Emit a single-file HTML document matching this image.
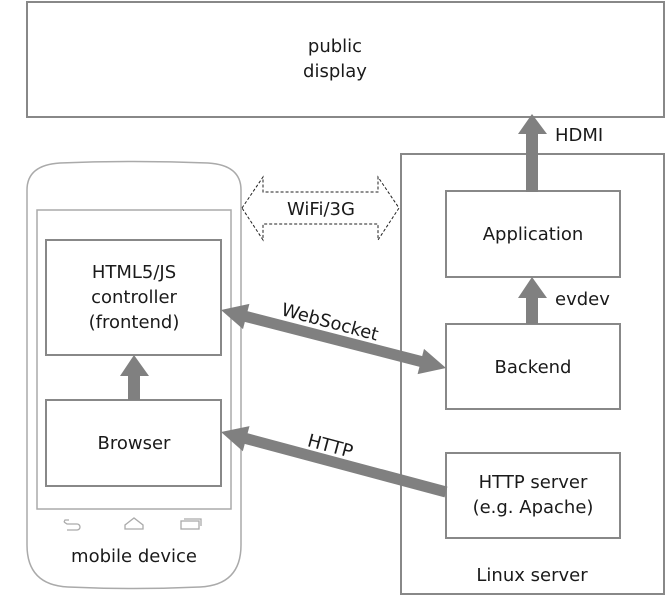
<!DOCTYPE html>
<html><head><style>
html,body{margin:0;padding:0;background:#fff}
</style></head><body>
<svg width="666" height="602" viewBox="0 0 666 602" xmlns="http://www.w3.org/2000/svg" font-family="DejaVu Sans, Liberation Sans, sans-serif" font-size="18" fill="#1a1a1a">
<g fill="none" stroke="#888" stroke-width="2">
<rect x="27" y="2" width="637" height="115"/>
<rect x="401" y="154" width="263" height="440"/>
<rect x="446" y="191" width="174" height="86"/>
<rect x="446" y="324" width="174" height="85"/>
<rect x="446" y="453" width="174" height="85"/>
<path d="M27,190 Q27,165 60,163 Q134,160 208,163 Q241,165 241,190 L241,545 Q241,585 200,587 Q134,590 68,587 Q27,585 27,545 Z" stroke="#aaa" stroke-width="1.5"/>
<rect x="37" y="210" width="194" height="299" stroke="#aaa" stroke-width="1.5"/>
<rect x="46" y="240" width="175" height="115"/>
<rect x="46" y="400" width="175" height="86"/>
</g>
<g fill="none" stroke="#aaa" stroke-width="1.3">
<path d="M69,520 h-4 l-1,2 M64,522 l3,2 h10 a3,3 0 0 1 0,6 h-10"/>
<path d="M125,529 h18 v-4 l-9,-7 l-9,7 z"/>
<rect x="181" y="521" width="18" height="8"/><path d="M184,519 h17 v7"/>
</g>
<path d="M242,208 L263,177 L263,192 L378,192 L378,177 L399,208 L378,240 L378,224 L263,224 L263,240 Z" fill="#fff" stroke="#222" stroke-width="1" stroke-dasharray="3,2"/>
<g fill="#808080" stroke="none">
<path d="M526,192 L526,134 L518,134 L532,114 L547,134 L538,134 L538,192 Z"/>
<path d="M526,324 L526,298 L518,298 L532,277 L547,298 L538,298 L538,324 Z"/>
<path d="M128,400 L128,376 L120,376 L134,355 L149,376 L140,376 L140,400 Z"/>
<path d="M221,310 L249.4,303.9 L243,329.1 Z"/>
<path d="M446,368 L424,348.9 L417.6,374.1 Z"/>
<path d="M221,432 L249.5,426.1 L242.8,451.3 Z"/>
</g>
<g stroke="#808080" stroke-width="11" fill="none">
<line x1="244" y1="316" x2="423" y2="362"/>
<line x1="244" y1="438" x2="446" y2="492"/>
</g>
<g stroke="none">
<text x="335" y="52" text-anchor="middle">public</text>
<text x="335" y="77" text-anchor="middle">display</text>
<text x="555" y="141">HDMI</text>
<text x="555" y="305">evdev</text>
<text x="533" y="240" text-anchor="middle">Application</text>
<text x="533" y="373" text-anchor="middle">Backend</text>
<text x="533" y="488" text-anchor="middle">HTTP server</text>
<text x="533" y="513" text-anchor="middle">(e.g. Apache)</text>
<text x="532" y="581" text-anchor="middle">Linux server</text>
<text x="321" y="215" text-anchor="middle">WiFi/3G</text>
<text x="134" y="278" text-anchor="middle">HTML5/JS</text>
<text x="134" y="303" text-anchor="middle">controller</text>
<text x="134" y="328" text-anchor="middle">(frontend)</text>
<text x="134" y="449" text-anchor="middle">Browser</text>
<text x="134" y="562" text-anchor="middle">mobile device</text>
<text x="330" y="328" text-anchor="middle" transform="rotate(15 330 322)">WebSocket</text>
<text x="330" y="452" text-anchor="middle" transform="rotate(15 330 447)">HTTP</text>
</g>
</svg>
</body></html>
